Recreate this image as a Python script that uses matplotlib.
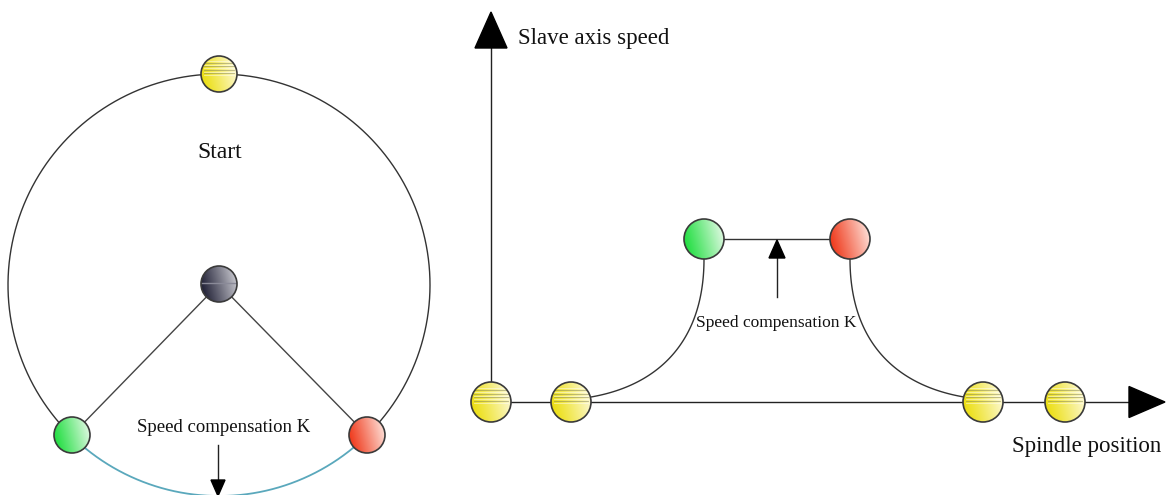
import numpy as np
import matplotlib.pyplot as plt
from matplotlib.patches import Circle, Polygon
from matplotlib.colors import to_rgb

plt.rcParams["font.family"] = ["Liberation Serif", "DejaVu Serif"]

W, H = 1167, 495

# left diagram: wheel
wheel_center = (219, 285)
wheel_radius = 211
start_ball = (219, 74)
hub_ball = (219, 284)
left_green = (72, 435)
left_red = (367, 435)
left_ball_r = 18

# right diagram: speed profile
origin = (491, 402)
axis_balls_x = [491, 571, 983, 1065]
top_green = (704, 239)
top_red = (850, 239)
ramp_up = [(704, 259), (704, 340), (660, 385), (591, 397)]
ramp_down = [(850, 259), (850, 340), (894, 385), (964, 397)]
right_ball_r = 20

YELLOW = ("#eadc00", "#fffce6")
GREEN = ("#12dc34", "#f0fbf0")
RED = ("#ee2c0c", "#ffeee8")
DARK = ("#14142a", "#d6d6dc")


def ball(ax, x, y, r, colors, stripes=False, band=False):
    n = 80
    c0, c1 = np.array(to_rgb(colors[0])), np.array(to_rgb(colors[1]))
    u = np.linspace(0, 1, n)
    gx, gy = np.meshgrid(u, u)
    t = np.clip(0.8 * gx + 0.2 * (1 - gy), 0, 1) ** 1.1
    img = c0 + (c1 - c0) * t[..., None]
    im = ax.imshow(img, extent=(x - r, x + r, y + r, y - r), zorder=3,
                   interpolation="bilinear")
    im.set_clip_path(Circle((x, y), r, transform=ax.transData))
    if stripes:
        for k, dy in enumerate(np.linspace(-0.7, 0.05, 9)):
            ln, = ax.plot([x - r * 0.85, x + r * 0.85], [y + dy * r, y + dy * r],
                          color="#7a7a50" if k % 2 else "#ffffff",
                          lw=0.6, alpha=0.55, zorder=4)
            ln.set_clip_path(Circle((x, y), r, transform=ax.transData))
    if band:
        ln, = ax.plot([x - r, x + r], [y - 0.05 * r, y - 0.05 * r],
                      color="#8a8a98", lw=1.0, zorder=4)
        ln.set_clip_path(Circle((x, y), r, transform=ax.transData))
    ax.add_patch(Circle((x, y), r, fill=False, ec="#3a3a3a", lw=1.2, zorder=5))


def arrow(ax, tail, tip, head_len, head_w, lw=1.0):
    tail, tip = np.array(tail, float), np.array(tip, float)
    d = tip - tail
    d /= np.hypot(*d)
    nrm = np.array([-d[1], d[0]])
    base = tip - d * head_len
    ax.plot([tail[0], base[0]], [tail[1], base[1]], color="#222222", lw=lw, zorder=2)
    ax.add_patch(Polygon([tip, base + nrm * head_w / 2, base - nrm * head_w / 2],
                         closed=True, fc="black", ec="black", zorder=6))


def bezier(pts, n=100):
    p = np.array(pts, float)
    t = np.linspace(0, 1, n)[:, None]
    return ((1 - t) ** 3 * p[0] + 3 * (1 - t) ** 2 * t * p[1]
            + 3 * (1 - t) * t ** 2 * p[2] + t ** 3 * p[3])


fig = plt.figure(figsize=(W / 100, H / 100), dpi=100)
ax = fig.add_axes([0, 0, 1, 1])
ax.set_xlim(0, W)
ax.set_ylim(H, 0)
ax.axis("off")

# wheel
cx, cy = wheel_center
a_green = np.arctan2(cy - left_green[1], left_green[0] - cx)
a_red = np.arctan2(cy - left_red[1], left_red[0] - cx)
top_arc = np.linspace(a_red, a_green + 2 * np.pi, 300)
ax.plot(cx + wheel_radius * np.cos(top_arc), cy - wheel_radius * np.sin(top_arc),
        color="#333333", lw=1.0, zorder=1)
bot_arc = np.linspace(a_green, a_red, 200)
ax.plot(cx + wheel_radius * np.cos(bot_arc), cy - wheel_radius * np.sin(bot_arc),
        color="#5aa8bc", lw=1.3, zorder=1)
for p in (left_green, left_red):
    ax.plot([hub_ball[0], p[0]], [hub_ball[1], p[1]], color="#444444", lw=1.0, zorder=1)

ball(ax, *start_ball, left_ball_r, YELLOW, stripes=True)
ball(ax, *hub_ball, left_ball_r, DARK, band=True)
ball(ax, *left_green, left_ball_r, GREEN)
ball(ax, *left_red, left_ball_r, RED)

ax.text(220, 158, "Start", fontsize=17, ha="center", va="baseline", color="#111111")
ax.text(224, 432, "Speed compensation K", fontsize=13.5, ha="center",
        va="baseline", color="#111111")
arrow(ax, (218, 445), (218, 496), 16, 14)

# speed profile axes
ox, oy = origin
arrow(ax, (ox, oy), (ox, 12), 36, 32)
arrow(ax, (ox, oy), (1165, oy), 36, 31)
ax.text(518, 44, "Slave axis speed", fontsize=16.5, ha="left", va="baseline",
        color="#111111")
ax.text(1161, 452, "Spindle position", fontsize=16.5, ha="right", va="baseline",
        color="#111111")

ax.plot([top_green[0], top_red[0]], [top_green[1], top_red[1]], color="#333333",
        lw=1.0, zorder=1)
for seg in (ramp_up, ramp_down):
    c = bezier(seg)
    ax.plot(c[:, 0], c[:, 1], color="#333333", lw=1.0, zorder=1)
arrow(ax, (777, 297), (777, 240), 18, 16)
ax.text(776, 327, "Speed compensation K", fontsize=12.5, ha="center",
        va="baseline", color="#111111")

for x in axis_balls_x:
    ball(ax, x, oy, right_ball_r, YELLOW, stripes=True)
ball(ax, *top_green, right_ball_r, GREEN)
ball(ax, *top_red, right_ball_r, RED)

fig.savefig("out.png", dpi=100)
